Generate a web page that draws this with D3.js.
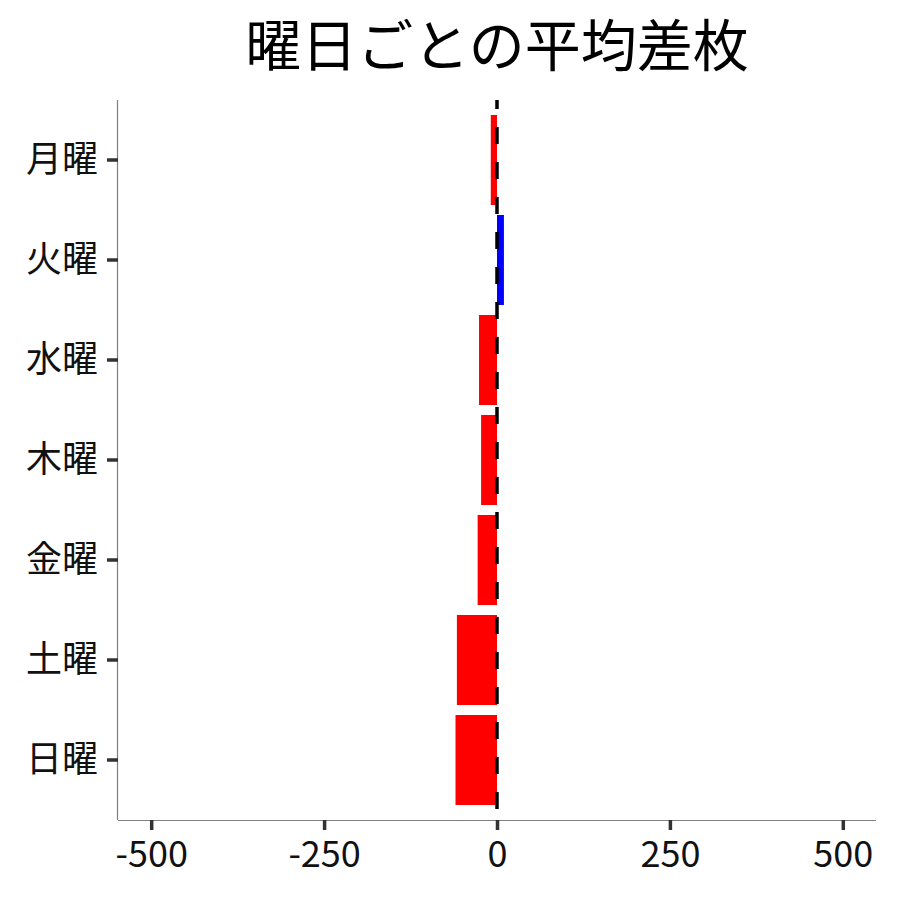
<!DOCTYPE html>
<html lang="ja">
<head>
<meta charset="utf-8">
<title>曜日ごとの平均差枚</title>
<script src="https://d3js.org/d3.v7.min.js"></script>
<style>
  body { margin: 0; background: #fff; }
  text { font-family: "Noto Sans CJK JP", "Noto Sans", sans-serif; }
</style>
</head>
<body>
<div id="chart"></div>
<script>
  // data
  var days = ["月曜", "火曜", "水曜", "木曜", "金曜", "土曜", "日曜"];
  var diffs = [-9, 10, -26, -23, -28, -58, -60];
  var xTicks = [-500, -250, 0, 250, 500];
  var titleText = "曜日ごとの平均差枚";

  var W = 900, H = 900;
  var margin = { top: 100, right: 24, bottom: 80, left: 118 };
  var width = W - margin.left - margin.right,
      height = H - margin.top - margin.bottom;

  var svg = d3.select("#chart").append("svg")
    .attr("width", W).attr("height", H);

  var g = svg.append("g")
    .attr("transform", "translate(" + margin.left + "," + margin.top + ")");

  var x = d3.scaleLinear().domain([-548, 548]).range([0, width]);

  // bands sit inside the panel with a little extra room at top and bottom
  var y = d3.scaleBand()
    .domain(days)
    .range([10, height - 10])
    .paddingInner(0.1)
    .paddingOuter(0.05);

  // bars
  g.selectAll("rect.bar")
    .data(days.map(function (d, i) { return { day: d, v: diffs[i] }; }))
    .enter().append("rect")
    .attr("class", "bar")
    .attr("x", function (d) { return x(Math.min(0, d.v)); })
    .attr("width", function (d) { return Math.abs(x(d.v) - x(0)); })
    .attr("y", function (d) { return y(d.day); })
    .attr("height", y.bandwidth())
    .attr("fill", function (d) { return d.v < 0 ? "#ff0000" : "#0000ff"; });

  // zero reference line
  g.append("line")
    .attr("x1", x(0)).attr("x2", x(0))
    .attr("y1", 0).attr("y2", height)
    .attr("stroke", "#000")
    .attr("stroke-width", 3.5)
    .attr("stroke-dasharray", "17,18")
    .attr("stroke-dashoffset", 8);

  // x axis
  var xAxis = g.append("g")
    .attr("transform", "translate(0," + height + ")")
    .call(d3.axisBottom(x).tickValues(xTicks).tickSize(10).tickPadding(11)
      .tickFormat(d3.format("d")));
  xAxis.select(".domain").attr("stroke", "#7f7f7f").attr("stroke-width", 1.2)
    .attr("d", "M0,0.5H" + width);
  xAxis.selectAll(".tick line").attr("stroke", "#333").attr("stroke-width", 3.5);
  xAxis.selectAll(".tick text").attr("fill", "#111").style("font-size", "36px")
    .text(function (d) { return d < 0 ? "-" + Math.abs(d) : d; });

  // y axis
  var yAxis = g.append("g")
    .call(d3.axisLeft(y).tickSize(11).tickPadding(9));
  yAxis.select(".domain").attr("stroke", "#7f7f7f").attr("stroke-width", 1.2)
    .attr("d", "M-0.5,0V" + height);
  yAxis.selectAll(".tick line").attr("stroke", "#333").attr("stroke-width", 3.5);
  yAxis.selectAll(".tick text").attr("fill", "#111").style("font-size", "36px");

  // title
  svg.append("text")
    .attr("x", margin.left + width / 2)
    .attr("y", 66)
    .attr("text-anchor", "middle")
    .attr("fill", "#000")
    .style("font-size", "56px")
    .text(titleText);
</script>
</body>
</html>
